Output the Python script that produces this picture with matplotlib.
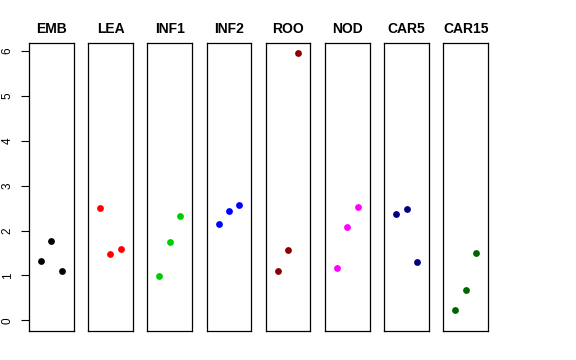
import matplotlib
matplotlib.use("Agg")
import matplotlib.pyplot as plt

plt.rcParams["font.family"] = ["Liberation Sans", "DejaVu Sans"]

# Stages and their three measured values each
stages = ["EMB", "LEA", "INF1", "INF2", "ROO", "NOD", "CAR5", "CAR15"]
emb = [1.33, 1.76, 1.11]
lea = [2.50, 1.48, 1.59]
inf1 = [0.99, 1.74, 2.33]
inf2 = [2.15, 2.44, 2.56]
roo = [1.11, 1.56, 5.94]
nod = [1.16, 2.08, 2.52]
car5 = [2.36, 2.47, 1.30]
car15 = [0.23, 0.67, 1.50]
series = [emb, lea, inf1, inf2, roo, nod, car5, car15]
colors = ["black", "red", "#00CD00", "blue", "#8B0000", "magenta", "#000080", "#006400"]
yticks = [0, 1, 2, 3, 4, 5, 6]

fig, axes = plt.subplots(1, len(stages), figsize=(5.76, 3.6), dpi=100, sharey=True)
fig.subplots_adjust(left=29 / 576, right=488 / 576, top=1 - 43 / 360,
                    bottom=1 - 331 / 360, wspace=0.33)

for i, (ax, name, vals, col) in enumerate(zip(axes, stages, series, colors)):
    ax.scatter([1, 2, 3], vals, s=24, color=col, zorder=3, linewidths=0)
    ax.set_xlim(-0.16, 4.16)
    ax.set_ylim(-0.235, 6.17)
    ax.set_xticks([])
    ax.set_title(name, fontsize=10, fontweight="bold", pad=7)
    for sp in ax.spines.values():
        sp.set_linewidth(0.9)
        sp.set_color("black")
    if i == 0:
        ax.set_yticks(yticks)
        ax.set_yticklabels([str(t) for t in yticks], rotation=90, va="center")
        ax.tick_params(axis="y", length=6, width=0.8, labelsize=8.5, pad=5)
    else:
        ax.tick_params(axis="y", left=False, labelleft=False)

fig.savefig("out.png", dpi=100, facecolor="white")
